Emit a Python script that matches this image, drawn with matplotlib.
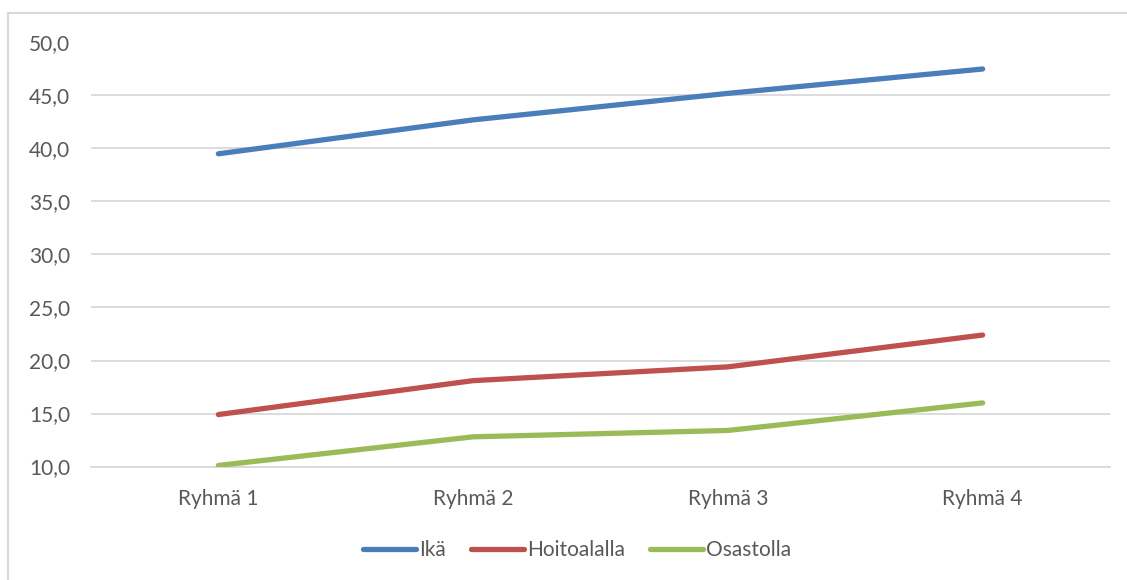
import matplotlib
matplotlib.use('Agg')
import matplotlib.pyplot as plt
from matplotlib.patches import Rectangle

plt.rcParams['font.family'] = ['Lato', 'DejaVu Sans']

groups = ['Ryhmä 1', 'Ryhmä 2', 'Ryhmä 3', 'Ryhmä 4']
ika = [39.5, 42.7, 45.2, 47.5]
hoitoalalla = [14.9, 18.1, 19.4, 22.4]
osastolla = [10.1, 12.8, 13.4, 16.0]

series = [('Ikä', ika, '#4a7ebb'),
          ('Hoitoalalla', hoitoalalla, '#c0504d'),
          ('Osastolla', osastolla, '#9bbb59')]

text_col = '#595959'
grid_col = '#d9d9d9'

fig = plt.figure(figsize=(11.27, 5.80), dpi=100)
ax = fig.add_axes([91/1127, 1-466.5/580, (1110-91)/1127, (466.5-42.5)/580])

# outer chart border
fig.patches.append(Rectangle((8/1127, -0.1), 1.2, 1.1 - 13/580,
                             transform=fig.transFigure, fill=False,
                             edgecolor=grid_col, linewidth=1.5))

x = range(len(groups))
for name, vals, col in series:
    ax.plot(x, vals, color=col, linewidth=3.8, solid_capstyle='round', label=name, zorder=3)

ax.set_xlim(-0.5, 3.5)
ax.set_ylim(10, 50)
ax.set_yticks(range(10, 51, 5))
ax.set_yticklabels(['{:.1f}'.format(v).replace('.', ',') for v in range(10, 51, 5)])
ax.set_xticks(list(x))
ax.set_xticklabels(groups)
ax.yaxis.grid(True, color=grid_col, linewidth=1.3)
ax.set_axisbelow(True)
for s in ['left', 'right', 'top']:
    ax.spines[s].set_visible(False)
ax.spines['bottom'].set_color(grid_col)
ax.spines['bottom'].set_linewidth(1.3)
ax.tick_params(axis='both', length=0, labelsize=15, colors=text_col)
ax.tick_params(axis='y', pad=15)
ax.tick_params(axis='x', pad=16)

ax.legend(loc='center', bbox_to_anchor=(577/1127, 1-550/580), bbox_transform=fig.transFigure,
          ncol=3, frameon=False, fontsize=15, labelcolor=text_col,
          handlelength=2.55, handletextpad=0.15, columnspacing=1.2)

fig.savefig('out.png', dpi=100, facecolor='white')
